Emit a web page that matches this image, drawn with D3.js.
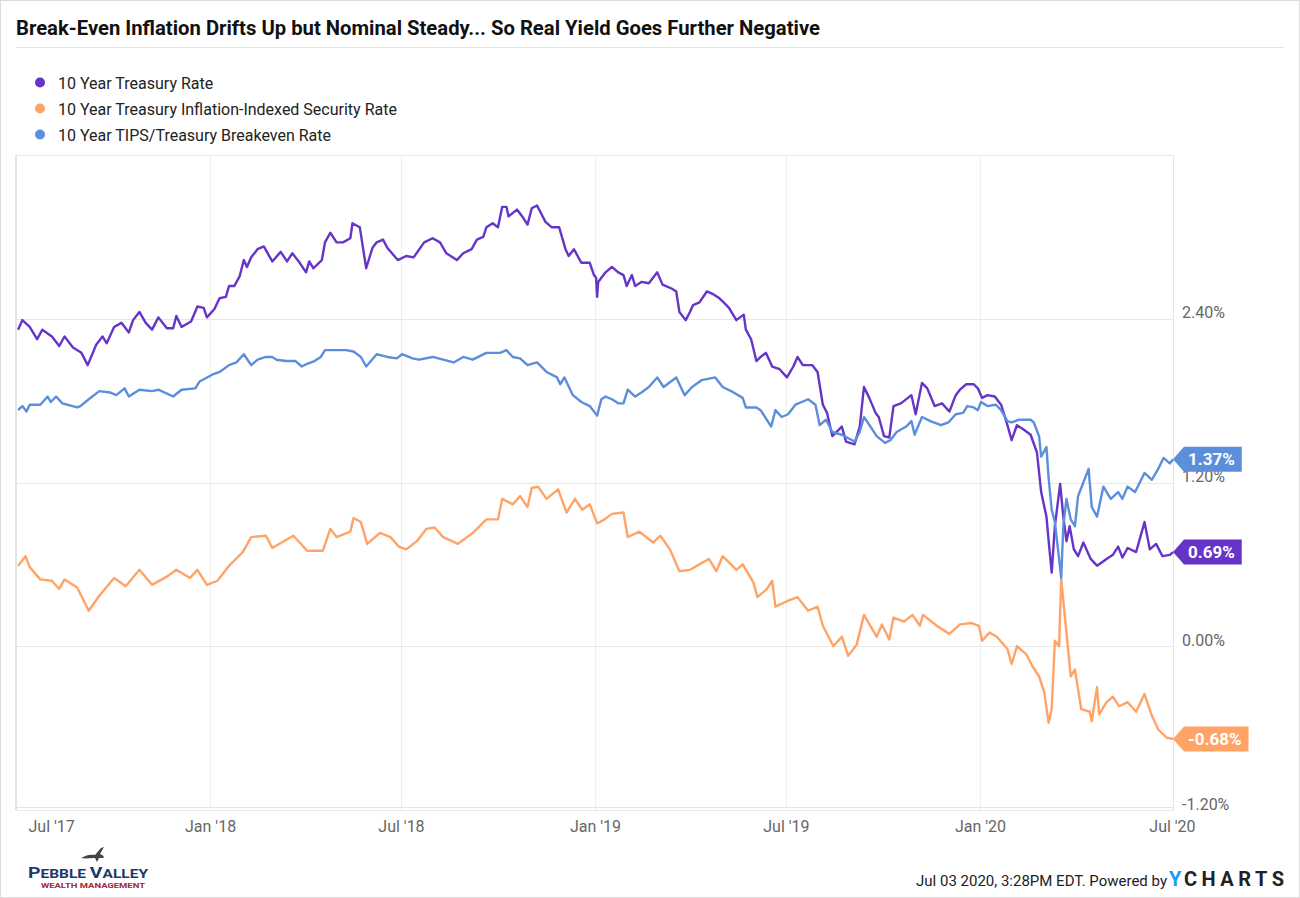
<!DOCTYPE html>
<html>
<head>
<meta charset="utf-8">
<script src="https://cdn.jsdelivr.net/npm/d3@7/dist/d3.min.js"></script>
<style>
  body { margin: 0; background: #fff; }
  text { font-family: Roboto, "Open Sans", sans-serif; }
</style>
</head>
<body>
<div id="chart"></div>
<script>
// ---- data ----
var treasuryDates = ['2017-07-03','2017-07-07','2017-07-14','2017-07-21','2017-07-26','2017-08-04','2017-08-11','2017-08-16','2017-08-24','2017-09-01','2017-09-07','2017-09-15','2017-09-21','2017-09-25','2017-10-02','2017-10-09','2017-10-16','2017-10-20','2017-10-26','2017-11-01','2017-11-07','2017-11-13','2017-11-21','2017-11-27','2017-11-30','2017-12-05','2017-12-14','2017-12-20','2017-12-26','2017-12-29',
  '2018-01-05','2018-01-10','2018-01-16','2018-01-19','2018-01-24','2018-01-29','2018-02-02','2018-02-05','2018-02-09','2018-02-15','2018-02-21','2018-03-01','2018-03-09','2018-03-15','2018-03-20','2018-03-27','2018-04-02','2018-04-05','2018-04-09','2018-04-17','2018-04-20','2018-04-25','2018-05-01','2018-05-07','2018-05-14','2018-05-16','2018-05-23','2018-05-29','2018-06-04','2018-06-08','2018-06-14','2018-06-18','2018-06-28',
  '2018-07-06','2018-07-13','2018-07-23','2018-07-31','2018-08-07','2018-08-13','2018-08-23','2018-08-29','2018-09-06','2018-09-11','2018-09-17','2018-09-20','2018-09-26','2018-10-01','2018-10-05','2018-10-09','2018-10-11','2018-10-19','2018-10-24','2018-10-29','2018-11-02','2018-11-07','2018-11-15','2018-11-21','2018-11-28','2018-12-04','2018-12-07','2018-12-12','2018-12-19','2018-12-27','2018-12-31',
  '2019-01-02','2019-01-03','2019-01-04','2019-01-11','2019-01-17','2019-01-23','2019-01-28','2019-01-31','2019-02-05','2019-02-08','2019-02-14','2019-02-21','2019-03-01','2019-03-06','2019-03-15','2019-03-19','2019-03-22','2019-03-28','2019-04-01','2019-04-04','2019-04-10','2019-04-17','2019-04-23','2019-04-29','2019-05-03','2019-05-08','2019-05-15','2019-05-22','2019-05-24','2019-05-29','2019-06-03','2019-06-07','2019-06-12','2019-06-18','2019-06-25',
  '2019-07-02','2019-07-08','2019-07-12','2019-07-17','2019-07-26','2019-07-31','2019-08-05','2019-08-09','2019-08-14','2019-08-23','2019-08-27','2019-09-04','2019-09-09','2019-09-13','2019-09-18','2019-09-24','2019-09-27','2019-10-02','2019-10-07','2019-10-11','2019-10-18','2019-10-28','2019-11-01','2019-11-07','2019-11-12','2019-11-19','2019-11-26','2019-12-03','2019-12-09','2019-12-13','2019-12-19','2019-12-26','2019-12-30',
  '2020-01-03','2020-01-08','2020-01-15','2020-01-21','2020-01-27','2020-01-31','2020-02-05','2020-02-11','2020-02-18','2020-02-24','2020-02-28','2020-03-04','2020-03-06','2020-03-09','2020-03-12','2020-03-17','2020-03-20','2020-03-23','2020-03-26','2020-03-30','2020-04-03','2020-04-08','2020-04-15','2020-04-21','2020-04-30','2020-05-06','2020-05-11','2020-05-15','2020-05-20','2020-05-28','2020-06-05','2020-06-10','2020-06-16','2020-06-22','2020-06-29','2020-07-02'];
var treasuryRates = [2.32,2.39,2.34,2.25,2.32,2.27,2.20,2.27,2.19,2.15,2.06,2.21,2.27,2.22,2.34,2.37,2.30,2.39,2.45,2.37,2.32,2.41,2.33,2.33,2.42,2.34,2.38,2.49,2.48,2.41,
  2.47,2.55,2.56,2.64,2.64,2.71,2.83,2.78,2.85,2.91,2.93,2.82,2.89,2.82,2.88,2.81,2.74,2.82,2.77,2.83,2.96,3.03,2.96,2.96,2.99,3.10,3.07,2.77,2.92,2.96,2.98,2.92,2.83,
  2.86,2.85,2.96,2.99,2.96,2.88,2.83,2.88,2.91,2.98,3.00,3.07,3.10,3.07,3.22,3.22,3.15,3.20,3.15,3.09,3.21,3.23,3.11,3.07,3.07,2.91,2.86,2.91,2.81,2.81,2.72,
  2.70,2.56,2.67,2.74,2.78,2.74,2.72,2.64,2.72,2.64,2.67,2.66,2.74,2.65,2.62,2.60,2.45,2.39,2.45,2.50,2.52,2.60,2.58,2.55,2.52,2.48,2.39,2.43,2.32,2.25,2.09,2.12,2.15,2.05,2.03,
  1.97,2.05,2.12,2.06,2.06,2.01,1.77,1.71,1.54,1.61,1.50,1.48,1.61,1.90,1.82,1.71,1.68,1.54,1.53,1.76,1.78,1.84,1.70,1.93,1.89,1.76,1.78,1.72,1.84,1.88,1.92,1.92,1.89,
  1.82,1.84,1.83,1.77,1.62,1.51,1.62,1.59,1.55,1.42,1.13,0.95,0.78,0.54,0.88,1.19,0.95,0.77,0.88,0.71,0.66,0.76,0.64,0.59,0.64,0.67,0.73,0.65,0.72,0.69,0.91,0.71,0.75,0.66,0.67,0.69];

var tipsDates = ['2017-07-03','2017-07-10','2017-07-14','2017-07-24','2017-08-04','2017-08-11','2017-08-16','2017-08-28','2017-09-08','2017-09-18','2017-10-02','2017-10-13','2017-10-26','2017-11-07','2017-11-21','2017-11-30','2017-12-13','2017-12-20','2017-12-29',
  '2018-01-08','2018-01-19','2018-02-01','2018-02-09','2018-02-23','2018-03-01','2018-03-12','2018-03-21','2018-03-27','2018-04-03','2018-04-18','2018-04-25','2018-05-01','2018-05-14','2018-05-17','2018-05-24','2018-05-30','2018-06-11','2018-06-21','2018-06-29',
  '2018-07-06','2018-07-16','2018-07-25','2018-08-02','2018-08-10','2018-08-24','2018-09-07','2018-09-20','2018-10-01','2018-10-05','2018-10-15','2018-10-22','2018-10-29','2018-11-02','2018-11-08','2018-11-16','2018-11-27','2018-12-05','2018-12-13','2018-12-20','2018-12-27',
  '2019-01-03','2019-01-10','2019-01-17','2019-01-28','2019-02-01','2019-02-12','2019-02-25','2019-03-04','2019-03-13','2019-03-22','2019-04-01','2019-04-10','2019-04-19','2019-04-26','2019-05-02','2019-05-15','2019-05-21','2019-05-31','2019-06-04','2019-06-13','2019-06-18','2019-06-21',
  '2019-07-02','2019-07-12','2019-07-22','2019-07-31','2019-08-05','2019-08-15','2019-08-23','2019-08-29','2019-09-06','2019-09-13','2019-09-25','2019-09-30','2019-10-07','2019-10-11','2019-10-21','2019-10-29','2019-11-05','2019-11-08','2019-11-21','2019-11-27','2019-12-03','2019-12-13','2019-12-24','2019-12-31',
  '2020-01-03','2020-01-10','2020-01-17','2020-01-27','2020-01-31','2020-02-05','2020-02-14','2020-02-20','2020-02-26','2020-03-02','2020-03-06','2020-03-09','2020-03-12','2020-03-16','2020-03-18','2020-03-23','2020-03-27','2020-03-31','2020-04-06','2020-04-14','2020-04-16','2020-04-21','2020-04-23','2020-04-30','2020-05-06','2020-05-12','2020-05-20','2020-05-28','2020-06-05','2020-06-12','2020-06-18','2020-06-26','2020-07-02'];
var tipsRates = [0.59,0.66,0.58,0.49,0.48,0.42,0.49,0.43,0.26,0.37,0.50,0.44,0.56,0.45,0.51,0.56,0.50,0.56,0.45,
  0.48,0.59,0.69,0.80,0.81,0.72,0.77,0.81,0.76,0.70,0.70,0.86,0.80,0.84,0.94,0.91,0.75,0.83,0.80,0.73,
  0.71,0.77,0.86,0.87,0.80,0.75,0.83,0.93,0.93,1.08,1.04,1.10,1.02,1.16,1.17,1.08,1.15,0.98,1.08,1.00,1.04,
  0.90,0.93,0.97,0.98,0.80,0.84,0.76,0.81,0.71,0.55,0.56,0.60,0.64,0.55,0.66,0.56,0.60,0.47,0.36,0.42,0.48,0.29,
  0.33,0.36,0.26,0.29,0.15,0.00,0.07,-0.07,0.01,0.23,0.07,0.16,0.05,0.21,0.18,0.23,0.15,0.23,0.15,0.12,0.09,0.16,0.17,0.15,
  0.04,0.10,0.07,-0.02,-0.13,0.00,-0.06,-0.15,-0.22,-0.34,-0.56,-0.46,0.04,0.00,0.49,0.10,-0.22,-0.17,-0.46,-0.48,-0.55,-0.30,-0.50,-0.41,-0.37,-0.44,-0.41,-0.48,-0.35,-0.51,-0.61,-0.67,-0.68];

var breakevenDates = ['2017-07-03','2017-07-07','2017-07-11','2017-07-14','2017-07-24','2017-07-31','2017-08-03','2017-08-08','2017-08-14','2017-08-28','2017-08-31','2017-09-08','2017-09-18','2017-09-28','2017-10-04','2017-10-12','2017-10-16','2017-10-26','2017-11-07','2017-11-13','2017-11-27','2017-12-05','2017-12-18','2017-12-22',
  '2018-01-03','2018-01-10','2018-01-19','2018-01-26','2018-02-02','2018-02-09','2018-02-15','2018-02-23','2018-03-01','2018-03-05','2018-03-14','2018-03-23','2018-03-29','2018-04-03','2018-04-10','2018-04-16','2018-04-20','2018-05-01','2018-05-10','2018-05-17','2018-05-24','2018-05-29','2018-06-08','2018-06-18','2018-06-27',
  '2018-07-02','2018-07-12','2018-07-18','2018-07-31','2018-08-10','2018-08-20','2018-08-29','2018-09-07','2018-09-20','2018-10-03','2018-10-09','2018-10-15','2018-10-22','2018-10-29','2018-11-07','2018-11-16','2018-11-26','2018-11-29','2018-12-03','2018-12-11','2018-12-19','2018-12-27',
  '2019-01-03','2019-01-07','2019-01-11','2019-01-17','2019-01-23','2019-01-28','2019-02-01','2019-02-08','2019-02-14','2019-02-21','2019-03-01','2019-03-07','2019-03-19','2019-03-27','2019-04-03','2019-04-12','2019-04-25','2019-05-02','2019-05-10','2019-05-21','2019-05-24','2019-06-03','2019-06-07','2019-06-17','2019-06-21','2019-06-27',
  '2019-07-03','2019-07-10','2019-07-16','2019-07-22','2019-07-29','2019-08-02','2019-08-08','2019-08-14','2019-08-23','2019-09-04','2019-09-09','2019-09-13','2019-09-20','2019-09-25','2019-10-03','2019-10-08','2019-10-14','2019-10-23','2019-10-28','2019-10-31','2019-11-07','2019-11-15','2019-11-25','2019-12-02','2019-12-09','2019-12-16','2019-12-20','2019-12-26','2019-12-30',
  '2020-01-02','2020-01-08','2020-01-16','2020-01-21','2020-01-27','2020-01-31','2020-02-07','2020-02-18','2020-02-21','2020-02-26','2020-02-28','2020-03-04','2020-03-06','2020-03-09','2020-03-12','2020-03-16','2020-03-18','2020-03-20','2020-03-23','2020-03-27','2020-03-31','2020-04-03','2020-04-08','2020-04-13','2020-04-16','2020-04-21','2020-04-27','2020-05-04','2020-05-11','2020-05-15','2020-05-20','2020-05-27','2020-06-05','2020-06-12','2020-06-18','2020-06-23','2020-06-29','2020-07-02'];
var breakevenRates = [1.73,1.76,1.72,1.77,1.77,1.83,1.79,1.83,1.78,1.75,1.76,1.81,1.87,1.86,1.84,1.89,1.83,1.88,1.87,1.88,1.83,1.88,1.89,1.94,
  1.99,2.01,2.06,2.08,2.14,2.06,2.10,2.12,2.12,2.10,2.09,2.09,2.05,2.07,2.09,2.12,2.17,2.17,2.17,2.16,2.12,2.05,2.14,2.12,2.11,
  2.14,2.11,2.10,2.12,2.10,2.08,2.12,2.10,2.15,2.15,2.17,2.12,2.11,2.06,2.08,2.01,1.97,1.92,1.97,1.84,1.79,1.76,
  1.69,1.81,1.83,1.81,1.78,1.78,1.88,1.83,1.86,1.90,1.97,1.90,1.97,1.84,1.90,1.95,1.97,1.90,1.87,1.82,1.75,1.75,1.73,1.61,1.73,1.68,
  1.70,1.77,1.79,1.81,1.77,1.62,1.66,1.57,1.55,1.50,1.57,1.68,1.60,1.54,1.49,1.51,1.57,1.61,1.65,1.55,1.68,1.65,1.62,1.64,1.70,1.71,1.76,1.75,1.73,
  1.79,1.76,1.77,1.73,1.65,1.64,1.66,1.66,1.64,1.54,1.39,1.46,1.24,1.00,0.91,0.64,0.50,0.88,1.08,0.93,0.88,1.10,1.20,1.30,1.02,0.95,1.17,1.08,1.13,1.08,1.17,1.13,1.27,1.22,1.30,1.38,1.34,1.37];

var seriesNames = ['10 Year Treasury Rate', '10 Year Treasury Inflation-Indexed Security Rate', '10 Year TIPS/Treasury Breakeven Rate'];
var seriesColors = ['#6634c9', '#ffa366', '#5b8edb'];
var yTicks = [-1.2, 0, 1.2, 2.4];
var xTickDates = ['2017-07-01', '2018-01-01', '2018-07-01', '2019-01-01', '2019-07-01', '2020-01-01', '2020-07-01'];

// ---- layout ----
var W = 1300, H = 898;
var plotL = 16, plotR = 1173, plotT = 155, plotB = 810;

var parse = d3.timeParse('%Y-%m-%d');

function zipSeries(dates, values) {
  return dates.map(function(d, i) { return { date: parse(d), value: values[i] }; });
}

var series = [
  zipSeries(treasuryDates, treasuryRates),
  zipSeries(tipsDates, tipsRates),
  zipSeries(breakevenDates, breakevenRates)
];

var svg = d3.select('#chart').append('svg')
  .attr('width', W)
  .attr('height', H);

// page frame
svg.append('rect')
  .attr('x', 0.5).attr('y', 0.5)
  .attr('width', W - 1).attr('height', H - 1)
  .attr('fill', '#fff')
  .attr('stroke', '#dcdcdc');

// title
svg.append('text')
  .attr('x', 16)
  .attr('y', 35)
  .attr('font-size', 21)
  .attr('font-weight', 'bold')
  .attr('fill', '#111')
  .attr('textLength', 804)
  .attr('lengthAdjust', 'spacingAndGlyphs')
  .text('Break-Even Inflation Drifts Up but Nominal Steady... So Real Yield Goes Further Negative');

svg.append('line')
  .attr('x1', 16).attr('x2', 1284)
  .attr('y1', 47.5).attr('y2', 47.5)
  .attr('stroke', '#e2e2e2');

// legend
var legend = svg.append('g');
seriesNames.forEach(function(name, i) {
  var cy = 82.5 + i * 26;
  legend.append('circle')
    .attr('cx', 40).attr('cy', cy).attr('r', 5)
    .attr('fill', seriesColors[i]);
  legend.append('text')
    .attr('x', 58).attr('y', cy + 6)
    .attr('font-size', 16)
    .attr('fill', '#222')
    .text(name);
});

// scales
var x = d3.scaleTime()
  .domain([parse('2017-07-01'), parse('2020-07-02')])
  .range([plotL, plotR]);

var y = d3.scaleLinear()
  .domain([-1.2, 3.6])
  .range([plotB, plotT]);

// grid
var grid = svg.append('g');
xTickDates.slice(1, -1).forEach(function(d) {
  var gx = Math.round(x(parse(d))) + 0.5;
  grid.append('line')
    .attr('x1', gx).attr('x2', gx)
    .attr('y1', plotT).attr('y2', plotB)
    .attr('stroke', '#eeeeee');
});
yTicks.concat([3.6]).forEach(function(v) {
  var gy = Math.round(y(v)) + 0.5;
  grid.append('line')
    .attr('x1', plotL).attr('x2', plotR)
    .attr('y1', gy).attr('y2', gy)
    .attr('stroke', '#e8e8e8');
});
// plot frame
grid.append('line')
  .attr('x1', plotL).attr('x2', plotL)
  .attr('y1', plotT).attr('y2', plotB)
  .attr('stroke', '#e4e4e4').attr('stroke-width', 2);
grid.append('line')
  .attr('x1', plotR + 0.5).attr('x2', plotR + 0.5)
  .attr('y1', plotT).attr('y2', plotB)
  .attr('stroke', '#e4e4e4');
grid.append('line')
  .attr('x1', plotL).attr('x2', plotR)
  .attr('y1', plotB - 2.5).attr('y2', plotB - 2.5)
  .attr('stroke', '#e4e4e4');

// y axis (right side)
var yAxis = d3.axisRight(y)
  .tickValues(yTicks)
  .tickSize(0)
  .tickPadding(0)
  .tickFormat(function(d) { return d.toFixed(2) + '%'; });

var yG = svg.append('g')
  .attr('transform', 'translate(1182,0)')
  .call(yAxis);
yG.select('.domain').remove();
yG.selectAll('text')
  .attr('x', 0)
  .attr('dy', '-1px')
  .attr('font-size', 16)
  .attr('font-family', 'Roboto, sans-serif')
  .attr('fill', '#666');

// x axis
var xAxis = d3.axisBottom(x)
  .tickValues(xTickDates.map(parse))
  .tickSize(0)
  .tickFormat(d3.timeFormat("%b '%y"));

var xG = svg.append('g')
  .attr('transform', 'translate(0,' + plotB + ')')
  .call(xAxis);
xG.select('.domain').remove();
xG.selectAll('text')
  .attr('y', 22)
  .attr('dy', 0)
  .attr('font-size', 16)
  .attr('font-family', 'Roboto, sans-serif')
  .attr('fill', '#666');
// first label is pushed inside the plot like the original
xG.selectAll('.tick').filter(function(d, i) { return i === 0; })
  .select('text')
  .attr('text-anchor', 'start')
  .attr('x', 12);

// lines
var line = d3.line()
  .x(function(d) { return x(d.date); })
  .y(function(d) { return y(d.value); });

series.forEach(function(data, i) {
  svg.append('path')
    .datum(data)
    .attr('fill', 'none')
    .attr('stroke', seriesColors[i])
    .attr('stroke-width', 2.4)
    .attr('stroke-linejoin', 'round')
    .attr('d', line);
});

// last-value tags
series.forEach(function(data, i) {
  var last = data[data.length - 1];
  var cy = y(last.value);
  var tipX = x(last.date);
  var tag = svg.append('g');
  var label = tag.append('text')
    .attr('x', tipX + 15)
    .attr('y', cy + 6)
    .attr('font-size', 17)
    .attr('font-weight', 'bold')
    .attr('fill', '#fff')
    .text(last.value.toFixed(2) + '%');
  var tw = label.node().getComputedTextLength();
  var right = tipX + 15 + tw + 7;
  tag.insert('path', 'text')
    .attr('d', 'M' + tipX + ',' + cy +
      'L' + (tipX + 11) + ',' + (cy - 12.5) +
      'L' + right + ',' + (cy - 12.5) +
      'L' + right + ',' + (cy + 12.5) +
      'L' + (tipX + 11) + ',' + (cy + 12.5) + 'Z')
    .attr('fill', seriesColors[i]);
});

// footer: firm logo
var logo = svg.append('g');
logo.append('path')
  .attr('d', 'M81,858 C86,855 91,854 95,855 L101,848 L104,847 L100,854 C103,855 105,857 103,858 L99,858 L97,862 L95,858 C91,858 86,859 81,858 Z')
  .attr('fill', '#444');
var pv = logo.append('text')
  .attr('x', 28).attr('y', 878)
  .attr('fill', '#1d3869')
  .attr('font-family', '"DejaVu Sans", sans-serif')
  .attr('font-weight', 'bold')
  .attr('textLength', 120)
  .attr('lengthAdjust', 'spacingAndGlyphs');
pv.append('tspan').attr('font-size', 15).text('P');
pv.append('tspan').attr('font-size', 12).text('EBBLE ');
pv.append('tspan').attr('font-size', 15).text('V');
pv.append('tspan').attr('font-size', 12).text('ALLEY');
logo.append('text')
  .attr('x', 41).attr('y', 887.5)
  .attr('fill', '#a4273d')
  .attr('font-family', '"DejaVu Sans", sans-serif')
  .attr('font-weight', 'bold')
  .attr('font-size', 7.5)
  .attr('textLength', 104)
  .attr('lengthAdjust', 'spacingAndGlyphs')
  .text('WEALTH MANAGEMENT');

// footer: timestamp and YCharts mark
svg.append('text')
  .attr('x', 1167).attr('y', 886)
  .attr('text-anchor', 'end')
  .attr('font-size', 15)
  .attr('fill', '#222')
  .text('Jul 03 2020, 3:28PM EDT. Powered by');
svg.append('text')
  .attr('x', 1169).attr('y', 886)
  .attr('font-size', 20)
  .attr('font-weight', 'bold')
  .attr('fill', '#1e9cf0')
  .text('Y');
svg.append('text')
  .attr('x', 1184).attr('y', 886)
  .attr('font-size', 20)
  .attr('font-weight', 'bold')
  .attr('fill', '#222')
  .attr('textLength', 100)
  .attr('lengthAdjust', 'spacing')
  .text('CHARTS');
</script>
</body>
</html>
